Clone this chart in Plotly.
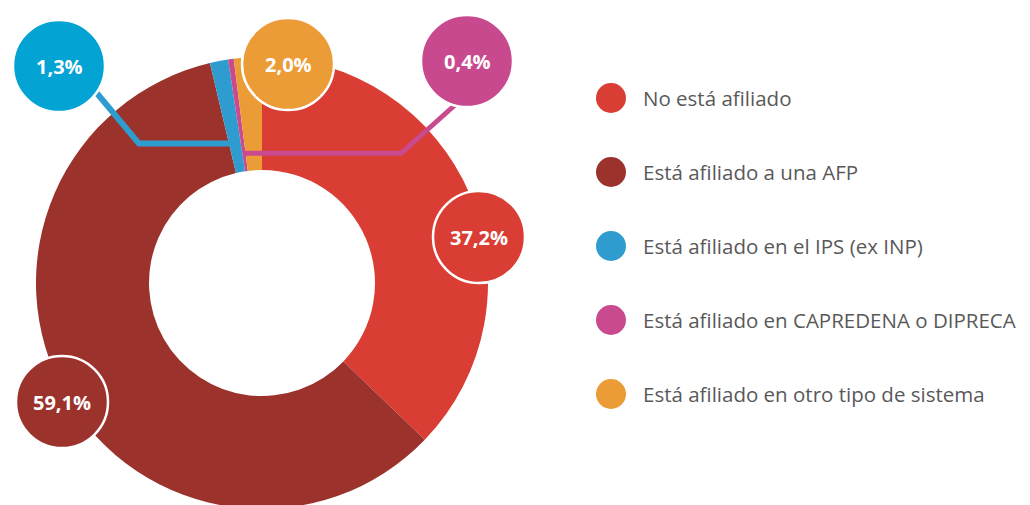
import math
import plotly.graph_objects as go

# ---------------- data ----------------
categories = [
    "No está afiliado",
    "Está afiliado a una AFP",
    "Está afiliado en el IPS (ex INP)",
    "Está afiliado en CAPREDENA o DIPRECA",
    "Está afiliado en otro tipo de sistema",
]
values = [37.2, 59.1, 1.3, 0.4, 2.0]
value_labels = ["37,2%", "59,1%", "1,3%", "0,4%", "2,0%"]

# ---------------- style / layout ----------------
slice_colors = ["#D93D33", "#9C322C", "#2F9CCF", "#C94A8E", "#EB9C37"]
callout_colors = ["#D93D33", "#9C322C", "#03A3D3", "#C9498F", "#EB9C37"]

OFF = 8            # page body margin
W, H = 1030, 530   # figure size
CX, CY, R = 262, 283, 226   # donut centre / radius in page pixels
HOLE = 0.5

callout_pos = [(479, 237), (62, 402), (59, 66), (467, 61), (288, 64)]
callout_r = 46
leaders = {
    2: dict(start=(85, 79), elbow_x=139, end_r=142, width=6),
    3: dict(start=(474, 88), elbow_x=401, end_r=131, width=5),
}
legend_x, legend_y0, legend_dy = 611, 98, 74
legend_text_x = 641

total = sum(values)


def slice_point(i, r):
    before = sum(values[:i])
    f = (before + values[i] / 2) / total
    th = 2 * math.pi * f
    return CX + r * math.sin(th), CY - r * math.cos(th)


fx, fy = CX - OFF, CY - OFF          # centre in figure pixels (from top-left)
fy_b = H - fy                         # centre from bottom

fig = go.Figure()

fig.add_trace(go.Pie(
    values=values,
    labels=categories,
    marker=dict(colors=slice_colors, line=dict(width=0)),
    hole=HOLE,
    sort=False,
    direction="clockwise",
    rotation=0,
    textinfo="none",
    showlegend=False,
    hoverinfo="label+percent",
    domain=dict(x=[(fx - R) / W, (fx + R) / W], y=[(fy_b - R) / H, (fy_b + R) / H]),
))

# custom legend markers
fig.add_trace(go.Scatter(
    x=[legend_x] * len(categories),
    y=[legend_y0 + legend_dy * i for i in range(len(categories))],
    mode="markers",
    marker=dict(size=30, color=slice_colors, line=dict(width=0)),
    hoverinfo="skip",
    showlegend=False,
))

shapes = []
annotations = []

# leader lines
for i, cfg in leaders.items():
    ex, ey = slice_point(i, cfg["end_r"])
    sx, sy = cfg["start"]
    shapes.append(dict(
        type="path", xref="x", yref="y",
        path=f"M {sx},{sy} L {cfg['elbow_x']},{ey} L {ex},{ey}",
        line=dict(color=slice_colors[i], width=cfg["width"]),
        layer="above",
    ))

# callout bubbles
for i, (cx, cy) in enumerate(callout_pos):
    shapes.append(dict(
        type="circle", xref="x", yref="y",
        x0=cx - callout_r, x1=cx + callout_r,
        y0=cy - callout_r, y1=cy + callout_r,
        fillcolor=callout_colors[i],
        line=dict(color="white", width=2.5),
        layer="above",
    ))
    annotations.append(dict(
        x=cx, y=cy, xref="x", yref="y", text=value_labels[i],
        showarrow=False,
        font=dict(family="Open Sans", size=20, color="white", weight="bold"),
    ))

for i, c in enumerate(categories):
    annotations.append(dict(
        x=legend_text_x, y=legend_y0 + legend_dy * i, xref="x", yref="y",
        text=c, showarrow=False, xanchor="left", yanchor="middle",
        font=dict(family="Open Sans", size=20.5, color="#595959"),
    ))

fig.update_layout(
    width=W, height=H,
    margin=dict(l=0, r=0, t=0, b=0),
    paper_bgcolor="white", plot_bgcolor="white",
    xaxis=dict(range=[OFF, OFF + W], visible=False, fixedrange=True, domain=[0, 1]),
    yaxis=dict(range=[OFF + H, OFF], visible=False, fixedrange=True, domain=[0, 1]),
    shapes=shapes,
    annotations=annotations,
    showlegend=False,
)

fig.write_html("out.html")
